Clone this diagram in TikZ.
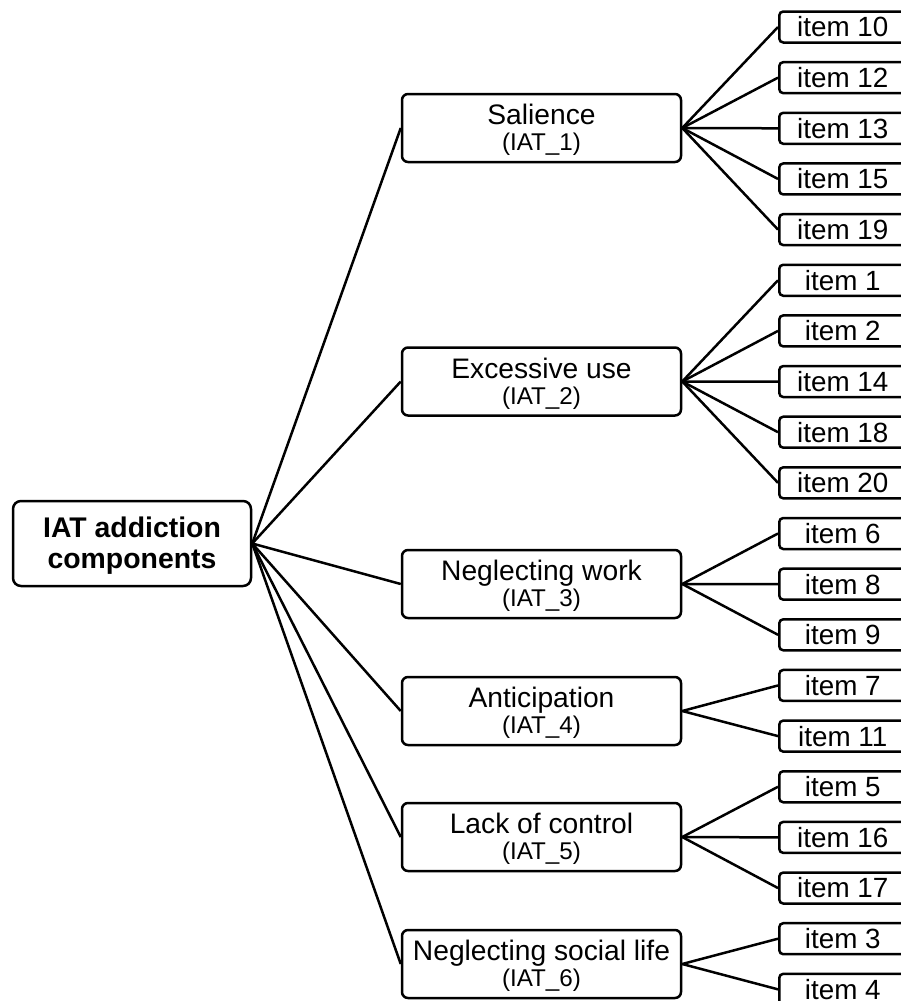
\documentclass[tikz,border=0pt]{standalone}
\usepackage{fontspec}
\setmainfont{Liberation Sans}
\usetikzlibrary{calc}
\begin{document}
\begin{tikzpicture}[x=1pt,y=-1pt,line width=2.5pt,
  rootbox/.style={draw,rounded corners=8pt,minimum width=238pt,minimum height=85pt,inner sep=0pt},
  midbox/.style={draw,rounded corners=6pt,minimum width=279pt,minimum height=68pt,inner sep=0pt},
  itembox/.style={draw,rounded corners=4pt,minimum width=127pt,minimum height=31pt,inner sep=0pt,anchor=west,
    font=\fontsize{27.8}{32}\selectfont},
  maintxt/.style={anchor=base,inner sep=0pt,font=\fontsize{28.2}{32}\selectfont},
  subtxt/.style={anchor=base,inner sep=0pt,font=\fontsize{24.2}{28}\selectfont},
  roottxt/.style={anchor=base,inner sep=0pt,font=\bfseries\fontsize{28.4}{32}\selectfont},
  link/.style={draw}]
\useasboundingbox (0,0) rectangle (901,1001);
\clip (0,0) rectangle (901,1001);

% root
\node[rootbox] (root) at (132,543.5) {};
\node[roottxt] (rootA) at ($(root.center)+(0,-6)$) {IAT addiction};
\node[roottxt] (rootB) at ($(root.center)+(0,25)$) {components};

% components
\foreach \n/\y/\a/\b in {s1/128/Salience/IAT\_1,
                         s2/381.5/Excessive use/IAT\_2,
                         s3/584/Neglecting work/IAT\_3,
                         s4/711/Anticipation/IAT\_4,
                         s5/837/Lack of control/IAT\_5,
                         s6/964/Neglecting social life/IAT\_6}{
  \node[midbox] (\n) at (541.5,\y) {};
  \node[maintxt] (\n a) at ($(\n.center)+(0,-3.5)$) {\a};
  \node[subtxt] (\n b) at ($(\n.center)+(0,22.5)$) {(\b)};
  \draw[link] (root.east) -- (\n.west);
}

% items
\foreach \k/\lab/\pa in {0/10/s1,1/12/s1,2/13/s1,3/15/s1,4/19/s1,
                          5/1/s2,6/2/s2,7/14/s2,8/18/s2,9/20/s2,
                          10/6/s3,11/8/s3,12/9/s3,
                          13/7/s4,14/11/s4,
                          15/5/s5,16/16/s5,17/17/s5,
                          18/3/s6,19/4/s6}{
  \node[itembox] (it\lab) at (778,27+50.65*\k) {item \lab};
  \draw[link] (\pa.east) -- (it\lab.west);
}
\end{tikzpicture}
\end{document}
